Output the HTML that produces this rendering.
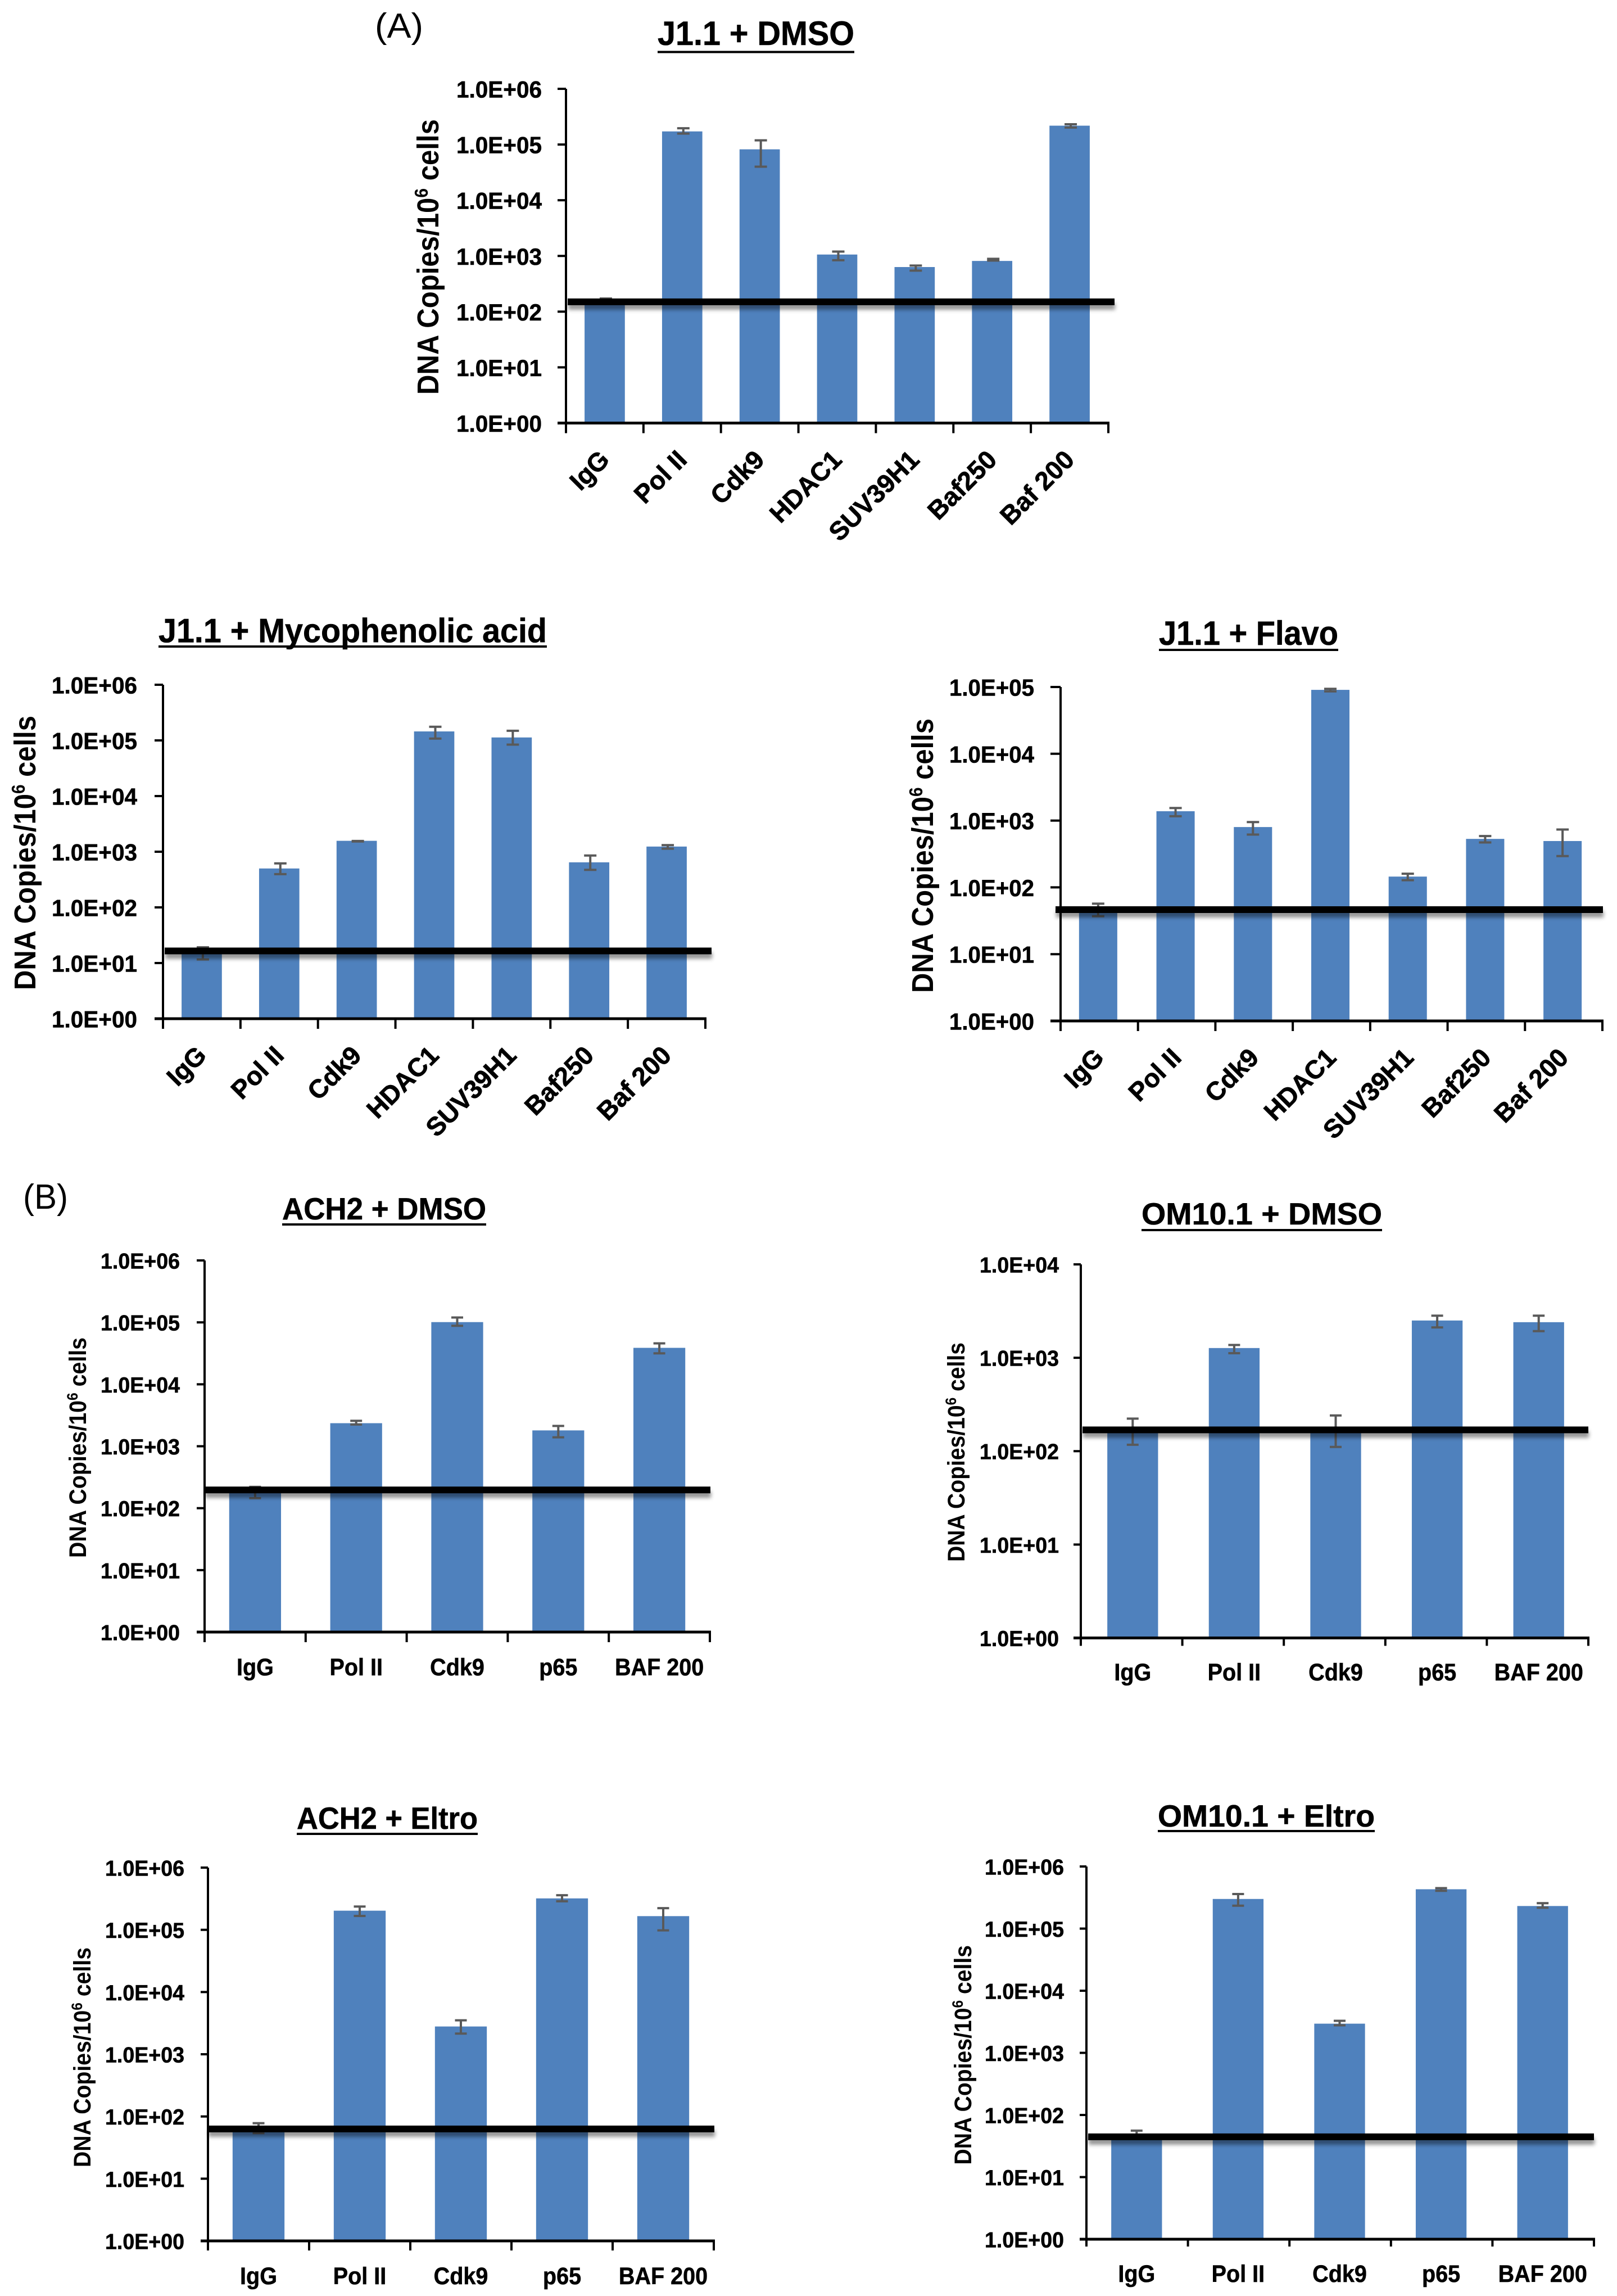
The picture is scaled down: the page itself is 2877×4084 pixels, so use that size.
<!DOCTYPE html>
<html lang="en">
<head>
<meta charset="utf-8">
<title>ChIP DNA copies per million cells</title>
<style>
  html, body { margin: 0; padding: 0; background: #ffffff; }
  svg { display: block; }
  text { font-family: "Liberation Sans", sans-serif; fill: #000000; }
</style>
</head>
<body>
<svg id="figure" xmlns="http://www.w3.org/2000/svg" width="2877" height="4084" viewBox="0 0 2877 4084">
  <defs>
    <filter id="line-shadow" x="-2%" y="-100%" width="104%" height="500%">
      <feDropShadow dx="1" dy="8" stdDeviation="3.5" flood-color="#000000" flood-opacity="0.42"/>
    </filter>
  </defs>
  <rect x="0" y="0" width="2877" height="4084" fill="#ffffff"/>
  <text x="667" y="67" font-size="62" textLength="86" lengthAdjust="spacingAndGlyphs">(A)</text>
  <text x="41" y="2150" font-size="62" textLength="80" lengthAdjust="spacingAndGlyphs">(B)</text>
</svg>
<script>
// ---------- shared categories and tick arrays ----------
const categoriesA = ['IgG', 'Pol II', 'Cdk9', 'HDAC1', 'SUV39H1', 'Baf250', 'Baf 200'];
const categoriesB = ['IgG', 'Pol II', 'Cdk9', 'p65', 'BAF 200'];
const ticksTo1e6 = [1, 10, 100, 1000, 10000, 100000, 1000000];
const tickLabelsTo1e6 = ['1.0E+00', '1.0E+01', '1.0E+02', '1.0E+03', '1.0E+04', '1.0E+05', '1.0E+06'];
const ticksTo1e5 = [1, 10, 100, 1000, 10000, 100000];
const tickLabelsTo1e5 = ['1.0E+00', '1.0E+01', '1.0E+02', '1.0E+03', '1.0E+04', '1.0E+05'];
const ticksTo1e4 = [1, 10, 100, 1000, 10000];
const tickLabelsTo1e4 = ['1.0E+00', '1.0E+01', '1.0E+02', '1.0E+03', '1.0E+04'];

// ---------- J1.1 + DMSO ----------
const j11DmsoValues = [160, 172000, 82000, 1060, 632, 813, 218000];
const j11DmsoHigh = [172, 196000, 119000, 1197, 671, 889, 231000];
const j11DmsoLow = [150, 157000, 40000, 838, 545, 826, 202000];
const j11DmsoThreshold = 150;

// ---------- J1.1 + Mycophenolic acid ----------
const j11MpaValues = [15, 500, 1570, 145000, 113000, 645, 1238];
const j11MpaHigh = [19.2, 617, 1560, 176000, 149000, 855, 1315];
const j11MpaLow = [11.6, 395, 1530, 108000, 84000, 472, 1132];
const j11MpaThreshold = 16.5;

// ---------- J1.1 + Flavo ----------
const j11FlavoValues = [47, 1380, 800, 90600, 145, 532, 494];
const j11FlavoHigh = [57, 1542, 951, 94000, 160, 587, 734];
const j11FlavoLow = [37, 1161, 617, 86000, 128, 470, 294];
const j11FlavoThreshold = 46.4;

// ---------- ACH2 + DMSO ----------
const ach2DmsoValues = [190, 2356, 101000, 1802, 38800];
const ach2DmsoHigh = [221, 2578, 120000, 2127, 45800];
const ach2DmsoLow = [145, 2239, 88000, 1395, 31600];
const ach2DmsoThreshold = 197;

// ---------- OM10.1 + DMSO ----------
const om101DmsoValues = [165, 1271, 170, 2506, 2404];
const om101DmsoHigh = [223, 1371, 241, 2825, 2825];
const om101DmsoLow = [117, 1119, 111, 2113, 1928];
const om101DmsoThreshold = 169;

// ---------- ACH2 + Eltro ----------
const ach2EltroValues = [63, 203000, 2795, 320000, 166000];
const ach2EltroHigh = [78, 237000, 3510, 360000, 223000];
const ach2EltroLow = [54, 167000, 2147, 288000, 98000];
const ach2EltroThreshold = 63;

// ---------- OM10.1 + Eltro ----------
const om101EltroValues = [45, 300000, 2950, 430000, 231000];
const om101EltroHigh = [56, 360000, 3280, 448000, 257000];
const om101EltroLow = [44, 234000, 2775, 406000, 217000];
const om101EltroThreshold = 44.5;

// ---------- chart layouts (geometry only; data comes from the arrays above) ----------
const charts = [
  { slug: 'j11-dmso', title: 'J1.1 + DMSO', titleX: 1170, titleW: 350, titleY: 80, ulY: 92.5, titleFont: 60,
    cats: categoriesA, vals: j11DmsoValues, hi: j11DmsoHigh, lo: j11DmsoLow, thr: j11DmsoThreshold,
    ticks: ticksTo1e6, tickLabels: tickLabelsTo1e6,
    x0: 1007, x1: 1972, top: 158, bottom: 752.5, barFrac: 0.52, barShift: 0, errShift: 2, capW: 22,
    yTickOut: 15, xTickLen: 18,
    tickGap: 43, tickFont: 42, tickLen: 152, lineX0: 1010, lineX1: 1983,
    yTitleX: 780, yTitleY0: 212, yTitleY1: 702, yTitleFont: 54, rotated: true },
  { slug: 'j11-mycophenolic', title: 'J1.1 + Mycophenolic acid', titleX: 282, titleW: 691, titleY: 1142.5, ulY: 1150, titleFont: 60,
    cats: categoriesA, vals: j11MpaValues, hi: j11MpaHigh, lo: j11MpaLow, thr: j11MpaThreshold,
    ticks: ticksTo1e6, tickLabels: tickLabelsTo1e6,
    x0: 290, x1: 1255, top: 1218, bottom: 1812, barFrac: 0.52, barShift: 0, errShift: 2, capW: 22,
    yTickOut: 15, xTickLen: 18,
    tickGap: 46, tickFont: 42, tickLen: 152, lineX0: 293, lineX1: 1266,
    yTitleX: 63, yTitleY0: 1273, yTitleY1: 1761, yTitleFont: 54, rotated: true },
  { slug: 'j11-flavo', title: 'J1.1 + Flavo', titleX: 2062, titleW: 319, titleY: 1147, ulY: 1156, titleFont: 60,
    cats: categoriesA, vals: j11FlavoValues, hi: j11FlavoHigh, lo: j11FlavoLow, thr: j11FlavoThreshold,
    ticks: ticksTo1e5, tickLabels: tickLabelsTo1e5,
    x0: 1887, x1: 2851, top: 1222, bottom: 1816, barFrac: 0.494, barShift: -2, errShift: 0, capW: 22,
    yTickOut: 18, xTickLen: 18,
    tickGap: 47, tickFont: 42, tickLen: 151, lineX0: 1878, lineX1: 2852,
    yTitleX: 1660, yTitleY0: 1278, yTitleY1: 1766, yTitleFont: 54, rotated: true },
  { slug: 'ach2-dmso', title: 'ACH2 + DMSO', titleX: 502, titleW: 363, titleY: 2169, ulY: 2178, titleFont: 55,
    cats: categoriesB, vals: ach2DmsoValues, hi: ach2DmsoHigh, lo: ach2DmsoLow, thr: ach2DmsoThreshold,
    ticks: ticksTo1e6, tickLabels: tickLabelsTo1e6,
    x0: 364, x1: 1263, top: 2242, bottom: 2903, barFrac: 0.513, barShift: 0, errShift: 0, capW: 21,
    yTickOut: 14, xTickLen: 18,
    tickGap: 44, tickFont: 39, tickLen: 141, lineX0: 364, lineX1: 1264,
    yTitleX: 153, yTitleY0: 2379, yTitleY1: 2771, yTitleFont: 43, rotated: false, xLabelY: 2980 },
  { slug: 'om101-dmso', title: 'OM10.1 + DMSO', titleX: 2031, titleW: 428, titleY: 2178, ulY: 2188, titleFont: 55,
    cats: categoriesB, vals: om101DmsoValues, hi: om101DmsoHigh, lo: om101DmsoLow, thr: om101DmsoThreshold,
    ticks: ticksTo1e4, tickLabels: tickLabelsTo1e4,
    x0: 1923, x1: 2826, top: 2249, bottom: 2913.5, barFrac: 0.5, barShift: 2, errShift: 0, capW: 21,
    yTickOut: 13, xTickLen: 14,
    tickGap: 39, tickFont: 39, tickLen: 141, lineX0: 1926, lineX1: 2826,
    yTitleX: 1716, yTitleY0: 2388, yTitleY1: 2778, yTitleFont: 43, rotated: false, xLabelY: 2989 },
  { slug: 'ach2-eltro', title: 'ACH2 + Eltro', titleX: 528, titleW: 322, titleY: 3253, ulY: 3262, titleFont: 55,
    cats: categoriesB, vals: ach2EltroValues, hi: ach2EltroHigh, lo: ach2EltroLow, thr: ach2EltroThreshold,
    ticks: ticksTo1e6, tickLabels: tickLabelsTo1e6,
    x0: 370, x1: 1270, top: 3322, bottom: 3986, barFrac: 0.513, barShift: 0, errShift: 0, capW: 21,
    yTickOut: 13, xTickLen: 17,
    tickGap: 42, tickFont: 39, tickLen: 141, lineX0: 370, lineX1: 1271,
    yTitleX: 161, yTitleY0: 3464, yTitleY1: 3855, yTitleFont: 43, rotated: false, xLabelY: 4063 },
  { slug: 'om101-eltro', title: 'OM10.1 + Eltro', titleX: 2060, titleW: 386, titleY: 3249, ulY: 3257, titleFont: 55,
    cats: categoriesB, vals: om101EltroValues, hi: om101EltroHigh, lo: om101EltroLow, thr: om101EltroThreshold,
    ticks: ticksTo1e6, tickLabels: tickLabelsTo1e6,
    x0: 1933, x1: 2836, top: 3320, bottom: 3983, barFrac: 0.5, barShift: -1, errShift: 0, capW: 21,
    yTickOut: 12, xTickLen: 13,
    tickGap: 40, tickFont: 39, tickLen: 141, lineX0: 1936, lineX1: 2836,
    yTitleX: 1728, yTitleY0: 3460, yTitleY1: 3850.5, yTitleFont: 43, rotated: false, xLabelY: 4059 }
];

const SVG_NS = 'http://www.w3.org/2000/svg';
const BAR_COLOR = '#4f81bd';
const ERR_COLOR = '#595959';
const figure = document.getElementById('figure');

function make(parent, tag, attrs, content) {
  const node = document.createElementNS(SVG_NS, tag);
  for (const key in attrs) node.setAttribute(key, attrs[key]);
  if (content !== undefined) node.textContent = content;
  parent.appendChild(node);
  return node;
}

function slugify(s) {
  return s.toLowerCase().replace(/[^a-z0-9]+/g, '-');
}

function drawChart(c) {
  const minLog = Math.log10(c.ticks[0]);
  const maxLog = Math.log10(c.ticks[c.ticks.length - 1]);
  const yScale = function (v) {
    return c.bottom - (Math.log10(v) - minLog) / (maxLog - minLog) * (c.bottom - c.top);
  };
  const step = (c.x1 - c.x0) / c.cats.length;
  const xCenter = function (i) { return c.x0 + (i + 0.5) * step; };

  const g = make(figure, 'g', {});
  
  

  // title and underline
  const title = make(g, 'text', { x: c.titleX, y: c.titleY, 'font-size': c.titleFont, 'font-weight': 'bold', stroke: '#000000', 'stroke-width': 0.6, textLength: c.titleW, lengthAdjust: 'spacingAndGlyphs' }, c.title);
  
  
  const underline = make(g, 'rect', { x: c.titleX, y: c.ulY - 2, width: c.titleW, height: 4, fill: '#000000' });
  
  

  // y axis title
  const cy = (c.yTitleY0 + c.yTitleY1) / 2;
  const yTitle = make(g, 'text', { transform: 'translate(' + c.yTitleX + ' ' + cy + ') rotate(-90)', 'text-anchor': 'middle', 'font-size': c.yTitleFont, 'font-weight': 'bold', textLength: c.yTitleY1 - c.yTitleY0, lengthAdjust: 'spacingAndGlyphs' });
  
  
  yTitle.appendChild(document.createTextNode('DNA Copies/10'));
  const supSize = Math.round(c.yTitleFont * 0.62);
  const supShift = Math.round(c.yTitleFont * 0.36);
  make(yTitle, 'tspan', { 'font-size': supSize, dy: -supShift }, '6');
  make(yTitle, 'tspan', { dy: supShift }, ' cells');

  // bars
  const barW = step * c.barFrac;
  c.vals.forEach(function (v, i) {
    const top = yScale(v);
    const bar = make(g, 'rect', { x: xCenter(i) + c.barShift - barW / 2, y: top, width: barW, height: c.bottom - top, fill: BAR_COLOR });
    
    
  });

  // error bars
  c.vals.forEach(function (v, i) {
    const ex = xCenter(i) + c.barShift + c.errShift;
    const yHi = yScale(c.hi[i]);
    const yLo = yScale(c.lo[i]);
    const err = make(g, 'path', { d: 'M' + (ex - c.capW / 2) + ' ' + yHi + 'H' + (ex + c.capW / 2) + 'M' + ex + ' ' + yHi + 'V' + yLo + 'M' + (ex - c.capW / 2) + ' ' + yLo + 'H' + (ex + c.capW / 2), fill: 'none', stroke: ERR_COLOR, 'stroke-width': 4 });
    
    
  });

  // axes
  const yAxis = make(g, 'line', { x1: c.x0, x2: c.x0, y1: c.top, y2: c.bottom + 2, stroke: '#000000', 'stroke-width': 4 });
  
  
  const xAxis = make(g, 'line', { x1: c.x0 - 2, x2: c.x1 + 2, y1: c.bottom, y2: c.bottom, stroke: '#000000', 'stroke-width': 5 });
  
  

  // y ticks and tick labels
  c.ticks.forEach(function (t, i) {
    const ty = yScale(t);
    const tick = make(g, 'line', { x1: c.x0 - c.yTickOut, x2: c.x0, y1: ty, y2: ty, stroke: '#000000', 'stroke-width': i === 0 ? 5 : 4 });
    
    
    const label = make(g, 'text', { x: c.x0 - c.tickGap - c.tickLen, y: ty + c.tickFont * 0.37, 'font-size': c.tickFont, 'font-weight': 'bold', stroke: '#000000', 'stroke-width': 0.6, textLength: c.tickLen, lengthAdjust: 'spacingAndGlyphs' }, c.tickLabels[i]);
    
    
  });

  // x ticks
  for (let i = 0; i <= c.cats.length; i++) {
    const tx = c.x0 + i * step;
    const tick = make(g, 'line', { x1: tx, x2: tx, y1: c.bottom, y2: c.bottom + c.xTickLen, stroke: '#000000', 'stroke-width': 4 });
    
    
  }

  // x labels
  c.cats.forEach(function (name, i) {
    let label;
    if (c.rotated) {
      label = make(g, 'text', { transform: 'translate(' + (xCenter(i) + 11) + ' ' + (c.bottom + 68) + ') rotate(-45)', 'text-anchor': 'end', 'font-size': 46, 'font-weight': 'bold', stroke: '#000000', 'stroke-width': 0.8 }, name);
    } else {
      label = make(g, 'text', { transform: 'translate(' + (xCenter(i) + c.barShift) + ' ' + c.xLabelY + ') scale(0.92 1)', 'text-anchor': 'middle', 'font-size': 43, 'font-weight': 'bold', stroke: '#000000', 'stroke-width': 0.6 }, name);
    }
    
    
  });

  // threshold line
  const lineY = yScale(c.thr);
  const thr = make(g, 'rect', { x: c.lineX0, y: lineY - 6, width: c.lineX1 - c.lineX0, height: 12, fill: '#000000', filter: 'url(#line-shadow)' });
  
  
}

charts.forEach(drawChart);
</script>
</body>
</html>
